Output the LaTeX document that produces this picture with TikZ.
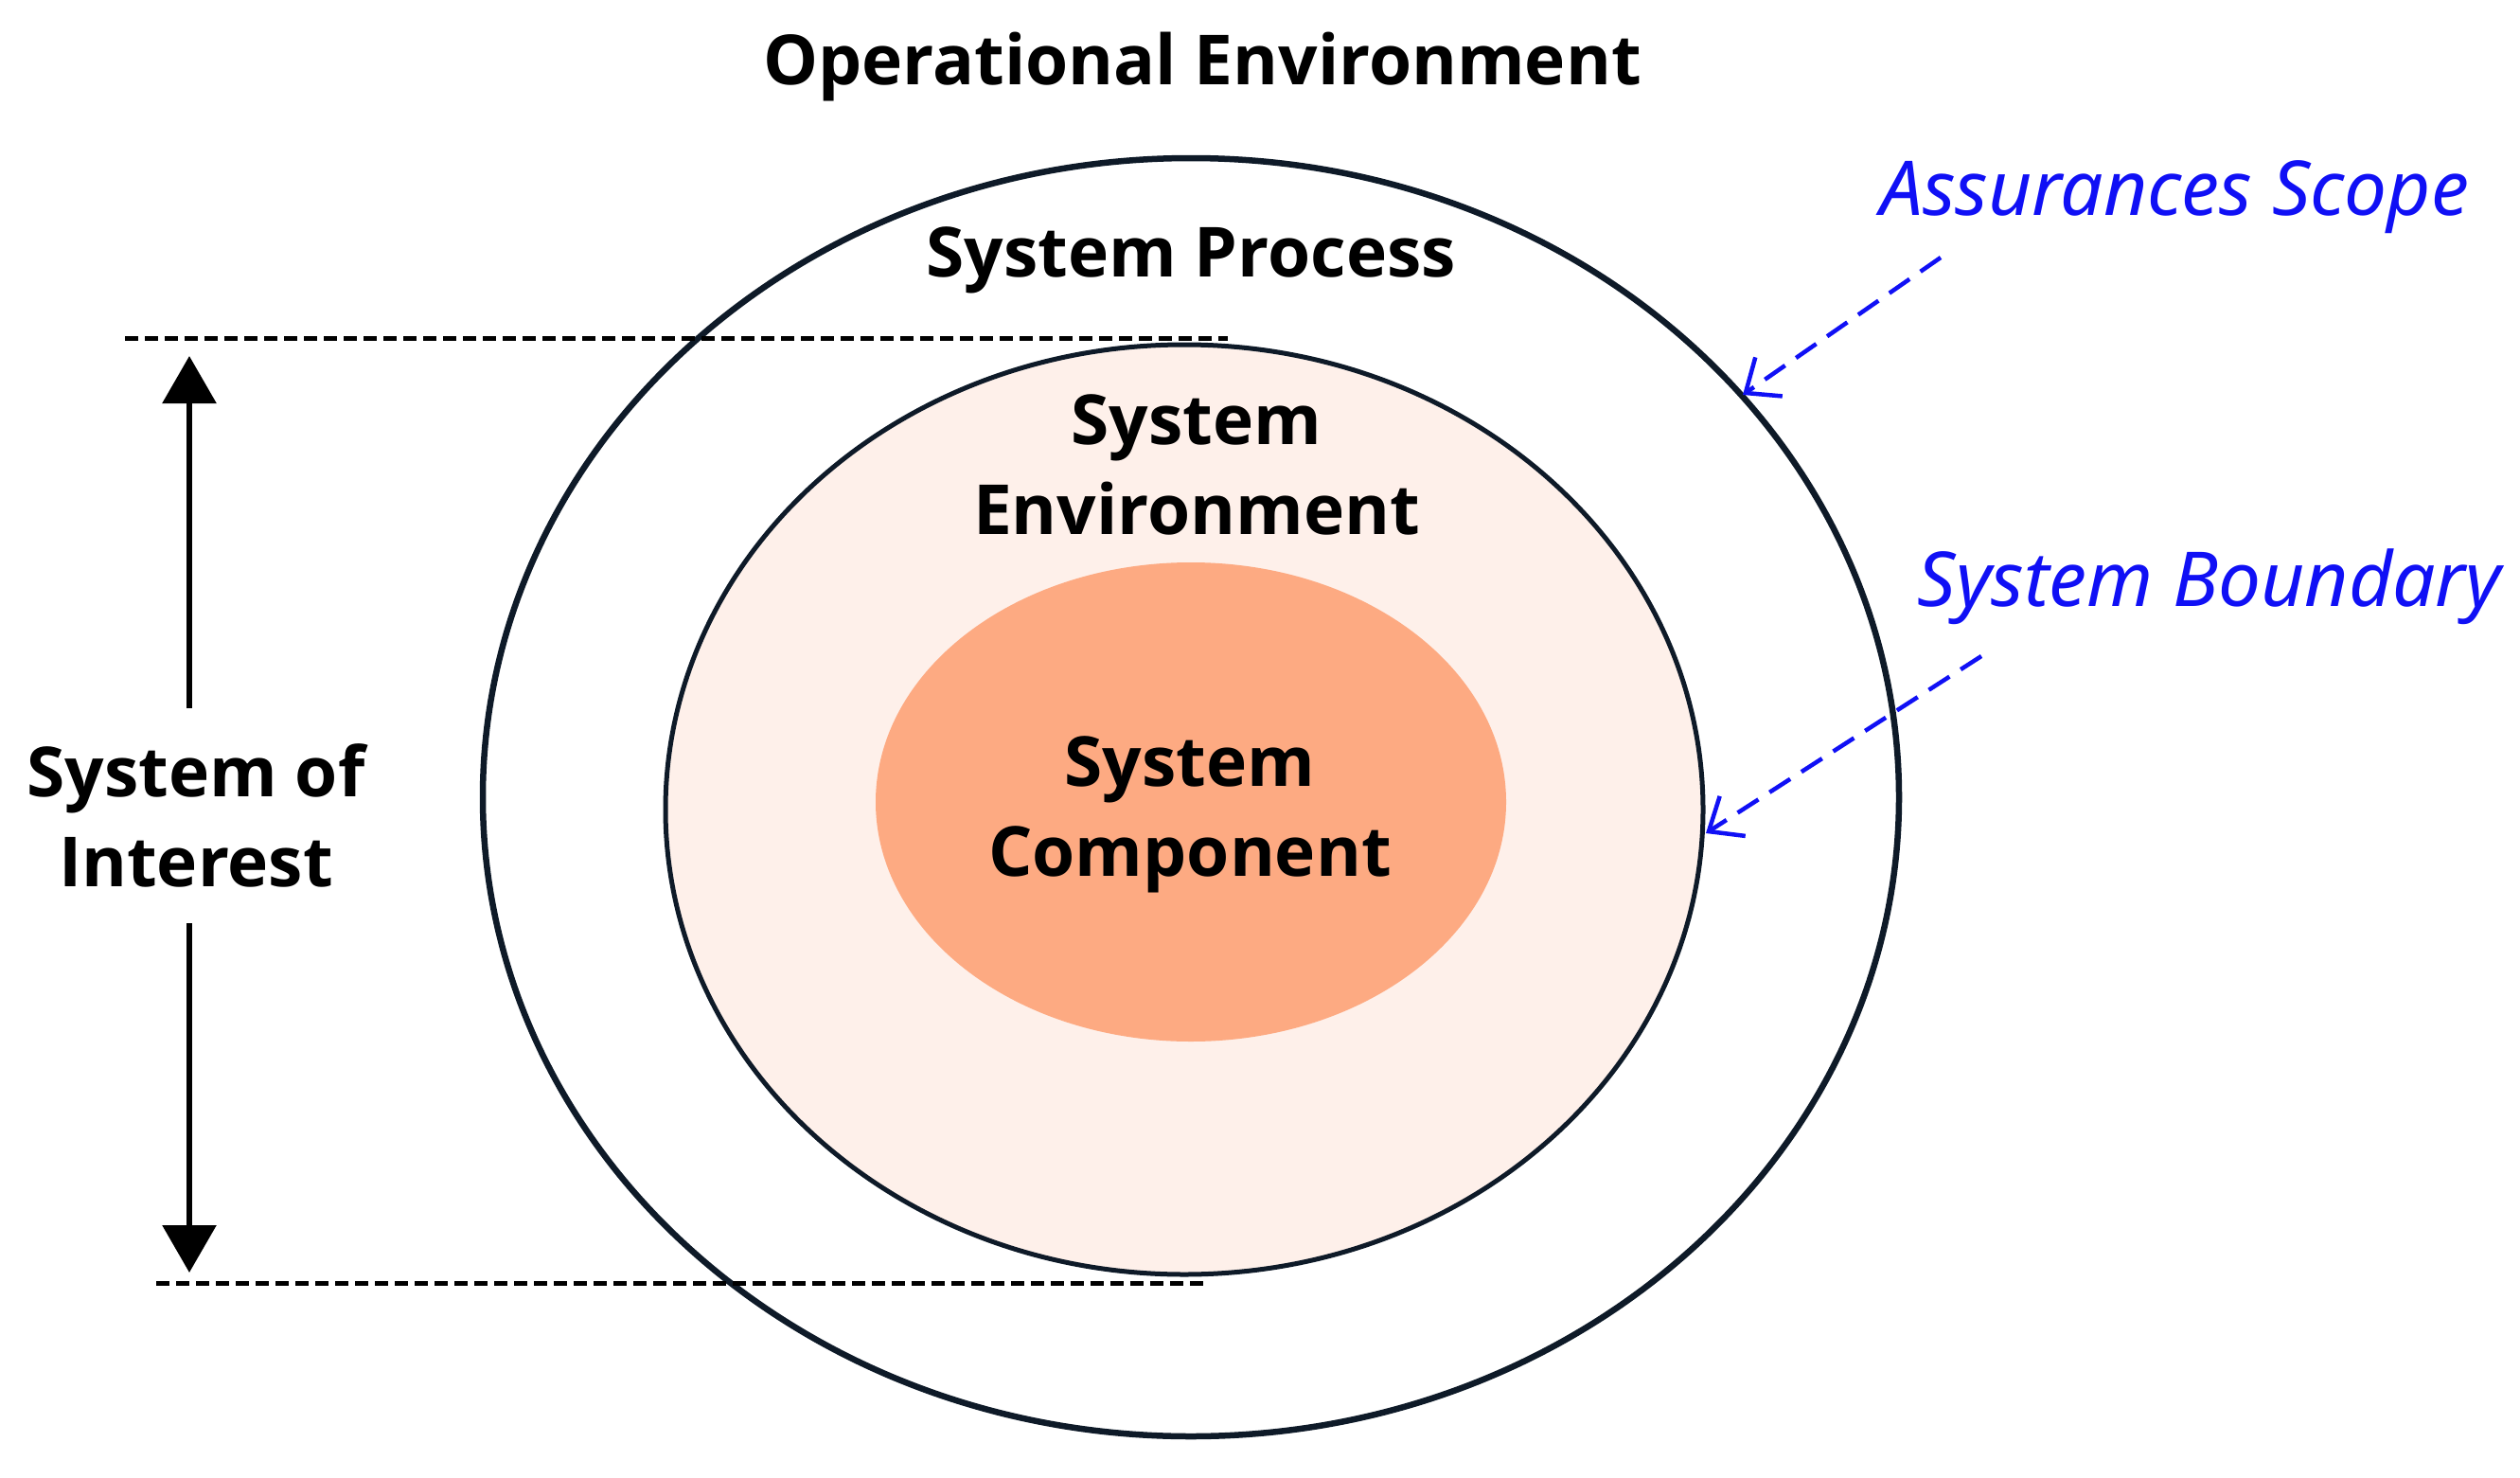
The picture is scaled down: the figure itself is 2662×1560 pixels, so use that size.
\documentclass[tikz,border=0pt]{standalone}
\usepackage{fontspec}
\setmainfont{Open Sans}
\newfontfamily\bluefont{Noto Sans}
\usetikzlibrary{shapes.geometric,arrows.meta}
\definecolor{ringcol}{HTML}{0E1A28}
\definecolor{envfill}{HTML}{FEF0EA}
\definecolor{compfill}{HTML}{FDAA82}
\definecolor{noteblue}{HTML}{1010F5}
\tikzset{
  ring/.style={ellipse, draw=ringcol, inner sep=0pt},
  lbl/.style={font=\fontsize{73}{95}\selectfont\bfseries, align=center, inner sep=0pt, text=black},
  note/.style={font=\fontsize{80}{90}\selectfont\bluefont\itshape, text=noteblue, inner sep=0pt},
  notearrow/.style={draw=noteblue, line width=4.5pt, dash pattern=on 26pt off 14pt, -{Straight Barb[length=30pt,width=50pt,line width=4.5pt]}},
  guide/.style={draw=black, line width=5pt, dash pattern=on 14pt off 7pt},
  dimarrow/.style={draw=black, line width=6pt, -{Triangle[length=50pt,width=56pt]}},
}
\begin{document}
\begin{tikzpicture}[x=1pt,y=-1pt]
\useasboundingbox[fill=white] (0,0) rectangle (2662,1560);
% ellipses
\node[ring, line width=6.5pt, minimum width=1496pt, minimum height=1350pt] (outer) at (1258,842) {};
\node[ring, line width=5pt, fill=envfill, minimum width=1096pt, minimum height=982pt] (middle) at (1251,855) {};
\node[ellipse, fill=compfill, inner sep=0pt, minimum width=666pt, minimum height=506pt] (inner) at (1258,847) {};
% labels
\node[lbl] (openv) at (1270,71) {Operational Environment};
\node[lbl] (sysproc) at (1258,275) {System Process};
\node[lbl] (sysenv) at (1264,491) {System\\Environment};
\node[lbl] (syscomp) at (1257,860) {System\\Component};
\node[lbl] (soi) at (207,861) {System of\\Interest};
\node[note] (scope) at (2297,208) {Assurances Scope};
\node[note] (boundary) at (2334,620) {System Boundary};
% guide lines
\coordinate (gtl) at (132,357);
\coordinate (gtr) at (1297,357);
\coordinate (gbl) at (165,1355);
\coordinate (gbr) at (1272,1355);
\draw[guide] (gtl) -- (gtr);
\draw[guide] (gbl) -- (gbr);
% dimension arrows
\coordinate (atop) at (200,376);
\coordinate (abot) at (200,1344);
\coordinate (s1) at (200,748);
\coordinate (s2) at (200,975);
\draw[dimarrow] (s1) -- (atop);
\draw[dimarrow] (s2) -- (abot);
% note arrows
\coordinate (n1s) at (2050,272);
\coordinate (n1e) at (1841,417);
\coordinate (n2s) at (2093,693);
\coordinate (n2e) at (1802,880);
\draw[notearrow] (n1s) -- (n1e);
\draw[notearrow] (n2s) -- (n2e);
\end{tikzpicture}
\end{document}
